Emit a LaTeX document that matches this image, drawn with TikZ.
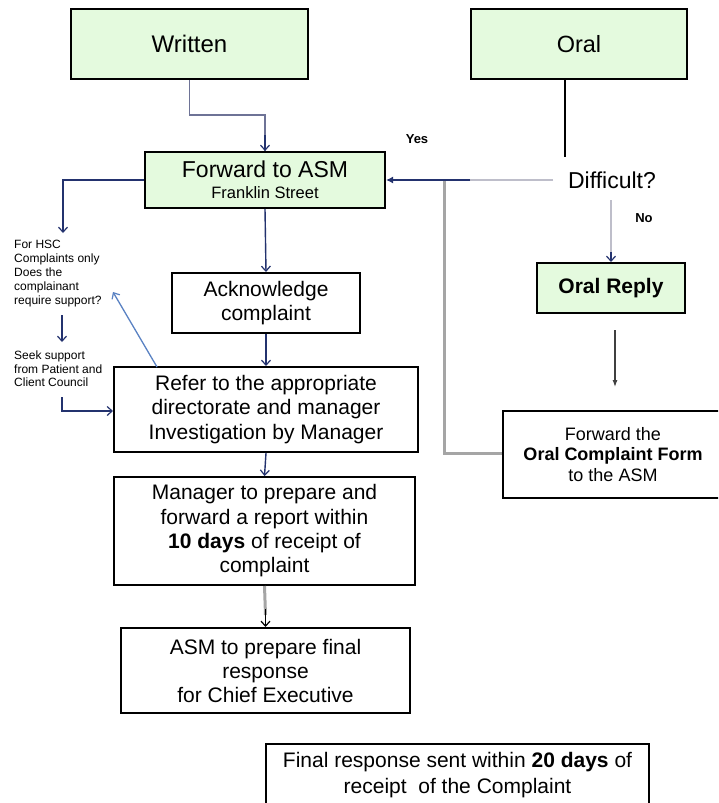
\documentclass[tikz,border=0pt]{standalone}
\usepackage{fontspec}
\setmainfont{Liberation Sans}
\usetikzlibrary{arrows.meta,calc}
\definecolor{boxgreen}{RGB}{228,250,222}
\definecolor{navy}{RGB}{35,50,110}
\definecolor{steel}{RGB}{110,115,150}
\definecolor{palegrey}{RGB}{190,190,202}
\definecolor{midgrey}{RGB}{165,165,165}
\definecolor{lightblue}{RGB}{90,130,195}
\newcommand{\fsz}[2]{\fontsize{#1}{#2}\selectfont}
\begin{document}
\begin{tikzpicture}[x=1pt,y=-1pt,
  wbox/.style={draw=black, line width=2pt, inner sep=0pt, align=center, fill=white},
  gbox/.style={wbox, fill=boxgreen},
  lbl/.style={inner sep=0pt, align=center},
  barb/.style={-{Straight Barb[length=5pt,width=9pt,line width=1.2pt]}},
  navyarrow/.style={navy, line width=1.4pt, barb},
]
\path[use as bounding box] (0,0) rectangle (718,803);
\clip (0,0) rectangle (718,803);
\fill[white] (0,0) rectangle (718,803);

% boxes
\node[gbox, minimum width=237pt, minimum height=70pt, font=\fsz{24}{28}] (written) at (189.5,44) {Written};
\node[gbox, minimum width=216pt, minimum height=70pt, font=\fsz{23.5}{28}] (oral) at (579,44) {Oral};
\node[gbox, minimum width=240pt, minimum height=56pt, font=\fsz{23}{22}] (fwd) at (265,180) {Forward to ASM\\[-1pt]{\fsz{16.5}{18}Franklin Street}};
\node[wbox, minimum width=188pt, minimum height=60pt, font=\fsz{21}{24}] (ack) at (266,303) {Acknowledge\\complaint};
\node[wbox, minimum width=304pt, minimum height=85pt, font=\fsz{21}{24.5}] (refer) at (266,409.5) {Refer to the appropriate\\directorate and manager\\Investigation by Manager};
\node[wbox, minimum width=301pt, minimum height=108pt, font=\fsz{21}{24.3}] (manager) at (264.5,531) {Manager to prepare and\\forward a report within\\\textbf{10 days} of receipt of\\complaint};
\node[wbox, minimum width=289pt, minimum height=85pt, font=\fsz{21}{24}] (asm) at (265.5,670.5) {ASM to prepare final\\response\\for Chief Executive};
\node[wbox, minimum width=383pt, minimum height=62pt, font=\fsz{21}{26}] (final) at (457.5,775) {Final response sent within \textbf{20 days} of\\receipt\ \ of the Complaint};
\node[gbox, minimum width=148pt, minimum height=50pt, font=\bfseries\fsz{21}{24}] (oralreply) at (611,288) {Oral Reply};
\node[wbox, minimum width=220pt, minimum height=87pt, font=\fsz{18}{20.5}] (fwdoral) at (613,454.5) {Forward the\\\textbf{Oral Complaint Form}\\to the ASM};

% labels
\node[lbl, font=\fsz{23}{26}] (difficult) at (612,180) {Difficult?};
\node[lbl, font=\bfseries\fsz{13}{15}] (yes) at (417,139) {Yes};
\node[lbl, font=\bfseries\fsz{13}{15}] (no) at (644,218) {No};
\node[lbl, anchor=north west, align=left, font=\fsz{12}{14}] (hsc) at (14,240) {For HSC\\Complaints only\\Does the\\complainant\\require support?};
\node[lbl, anchor=north west, align=left, font=\fsz{12}{13.5}] (seek) at (14,351) {Seek support\\from Patient and\\Client Council};

% helper coordinates
\coordinate (w1) at (189.5,115);
\coordinate (oraltop) at (565,79);
\coordinate (oralend) at (565,157);
\coordinate (d1) at (553,180);
\coordinate (d2) at (470,180);
\coordinate (j1) at (444,180);
\coordinate (j2) at (444,453);
\coordinate (n1) at (611,200);
\coordinate (r1) at (615,330);
\coordinate (r2) at (615,387);
\coordinate (l1) at (63,180);
\coordinate (l2) at (63,233);
\coordinate (s1) at (62,315);
\coordinate (s2) at (62,342);
\coordinate (c1) at (62,397);
\coordinate (c2) at (62,411);
\coordinate (b1) at (157,367);
\coordinate (b2) at (113,292);

% connectors
\draw[steel, line width=1.5pt] (written.south) -- (w1) -| (fwd.north);
\draw[navy, line width=1.2pt, barb] ($(fwd.north)+(0,-16)$) -- (fwd.north);
\draw[black, line width=1.5pt] (oraltop) -- (oralend);
\draw[midgrey, line width=3pt] (j1) -- (j2) -- (j2 -| fwdoral.west);
\draw[palegrey, line width=2pt] (d1) -- (d2);
\draw[navy, line width=1.6pt, -{Latex[length=7pt,width=7pt]}] (d2) -- (fwd.east);
\draw[palegrey, line width=2.2pt] (n1) -- ($(oralreply.north)+(0,-8)$);
\draw[navy, line width=1.2pt, barb] ($(oralreply.north)+(0,-10)$) -- (oralreply.north);
\draw[black!75, line width=1.1pt, -{Latex[length=7pt,width=5pt]}] (r1) -- (r2);
\draw[navyarrow] (fwd.west) -- (l1) -- (l2);
\draw[navyarrow] (s1) -- (s2);
\draw[navyarrow] (c1) -- (c2) -- (c2 -| refer.west);
\draw[lightblue, line width=1.3pt, barb] (b1) -- (b2);
\draw[navyarrow] (fwd.south) -- (ack.north);
\draw[navyarrow] (ack.south) -- (refer.north);
\draw[navyarrow] (refer.south) -- (manager.north);
\draw[midgrey, line width=3pt] (manager.south) -- ($(asm.north)+(0,-12)$);
\draw[black, line width=1pt, barb] ($(asm.north)+(0,-18)$) -- (asm.north);
\end{tikzpicture}
\end{document}
